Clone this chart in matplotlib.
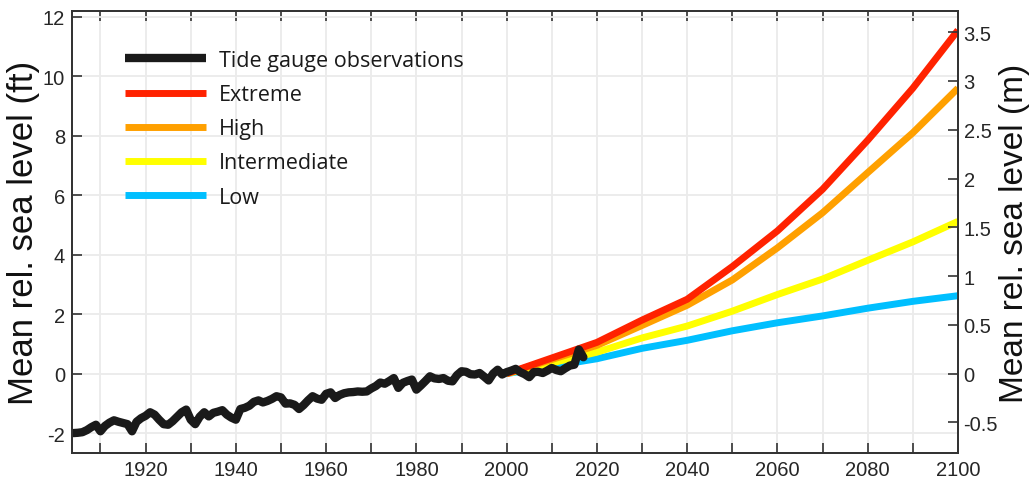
import matplotlib
matplotlib.use("Agg")
import matplotlib.pyplot as plt
from matplotlib.lines import Line2D
from matplotlib.ticker import FixedLocator

plt.rcParams["axes.unicode_minus"] = False

# ---------------- data ----------------
obs_years = list(range(1904, 2018))
obs_ft = [
    -2.00, -1.99, -1.97, -1.90, -1.80, -1.72, -1.94, -1.76, -1.65, -1.57,   # 1904-1913
    -1.62, -1.66, -1.70, -1.94, -1.62, -1.50, -1.42, -1.30, -1.38, -1.55,   # 1914-1923
    -1.70, -1.72, -1.60, -1.45, -1.30, -1.21, -1.55, -1.70, -1.45, -1.30,   # 1924-1933
    -1.44, -1.32, -1.28, -1.23, -1.38, -1.48, -1.55, -1.19, -1.15, -1.08,   # 1934-1943
    -0.95, -0.90, -0.97, -0.92, -0.85, -0.76, -0.80, -1.01, -1.00, -1.05,   # 1944-1953
    -1.19, -1.06, -0.90, -0.76, -0.84, -0.88, -0.68, -0.63, -0.82, -0.72,   # 1954-1963
    -0.66, -0.63, -0.62, -0.60, -0.61, -0.60, -0.50, -0.42, -0.30, -0.34,   # 1964-1973
    -0.25, -0.15, -0.48, -0.31, -0.25, -0.20, -0.54, -0.40, -0.25, -0.09,   # 1974-1983
    -0.16, -0.18, -0.15, -0.24, -0.26, -0.05, 0.08, 0.06, -0.02, -0.03,     # 1984-1993
    0.02, -0.10, -0.23, 0.00, 0.13, -0.03, 0.05, 0.10, 0.16, 0.05,          # 1994-2003
    -0.02, -0.12, 0.05, 0.06, 0.02, 0.10, 0.19, 0.12, 0.08, 0.18,           # 2004-2013
    0.27, 0.30, 0.81, 0.55,                                                 # 2014-2017
]

proj_years = [2000, 2020, 2030, 2040, 2050, 2060, 2070, 2080, 2090, 2100]
extreme_ft = [0.0, 1.05, 1.80, 2.50, 3.60, 4.80, 6.20, 7.85, 9.60, 11.55]
high_ft = [0.0, 0.95, 1.62, 2.30, 3.15, 4.23, 5.41, 6.76, 8.10, 9.60]
intermediate_ft = [0.0, 0.72, 1.20, 1.60, 2.10, 2.66, 3.18, 3.81, 4.43, 5.12]
low_ft = [0.0, 0.50, 0.85, 1.12, 1.44, 1.71, 1.94, 2.20, 2.43, 2.62]

labels = ["Tide gauge observations", "Extreme", "High", "Intermediate", "Low"]
colors = ["#1a1a1a", "#ff2200", "#ffa000", "#ffff00", "#00bfff"]

ft_ticks = [-2, 0, 2, 4, 6, 8, 10, 12]
m_ticks = [-0.5, 0, 0.5, 1, 1.5, 2, 2.5, 3, 3.5]
x_label_ticks = list(range(1920, 2101, 20))
FT_TO_M = 0.3048

# ---------------- figure ----------------
tick_font = "Liberation Sans"
fig = plt.figure(figsize=(10.34, 4.81), dpi=100)
ax = fig.add_axes([72 / 1034, 1 - 454 / 481, (958 - 72) / 1034, (454 - 12) / 481])

xlim = (1903.7, 2100)
ylim = (-2.67, 12.195)

ax.set_xlim(*xlim)
ax.set_ylim(*ylim)

ax.plot(proj_years, low_ft, color=colors[4], lw=5.0, solid_capstyle="butt", zorder=3)
ax.plot(proj_years, intermediate_ft, color=colors[3], lw=5.0, solid_capstyle="butt", zorder=4)
ax.plot(proj_years, high_ft, color=colors[2], lw=5.0, solid_capstyle="butt", zorder=5)
ax.plot(proj_years, extreme_ft, color=colors[1], lw=5.0, solid_capstyle="butt", zorder=6)
ax.plot(obs_years, obs_ft, color=colors[0], lw=6.0, solid_joinstyle="round",
        solid_capstyle="round", zorder=7)

# grid & ticks
ax.xaxis.set_major_locator(FixedLocator(x_label_ticks))
ax.xaxis.set_minor_locator(FixedLocator(list(range(1910, 2100, 20))))
ax.yaxis.set_major_locator(FixedLocator(ft_ticks))
ax.grid(True, which="both", axis="x", color="#ebebeb", lw=1.3, zorder=0)
ax.grid(True, which="major", axis="y", color="#ebebeb", lw=1.3, zorder=0)
ax.set_axisbelow(True)

tick_kw = dict(direction="in", length=7, width=1.2, color="#333333")
ax.tick_params(axis="x", which="both", top=True, bottom=True, **tick_kw)
ax.tick_params(axis="y", which="both", left=True, right=False, **tick_kw)
ax.tick_params(axis="x", which="major", labelsize=14.5, pad=5, labelcolor="#262626")
ax.tick_params(axis="y", which="major", labelsize=14.5, pad=5, labelcolor="#262626")
for lab in ax.get_xticklabels() + ax.get_yticklabels():
    lab.set_fontfamily(tick_font)

for sp in ax.spines.values():
    sp.set_color("#333333")
    sp.set_linewidth(1.3)

ax.set_ylabel("Mean rel. sea level (ft)", fontsize=25, family=tick_font, color="#111111", labelpad=2)

# right axis in meters
ax2 = ax.twinx()
ax2.set_ylim(ylim[0] * FT_TO_M, ylim[1] * FT_TO_M)
ax2.yaxis.set_major_locator(FixedLocator(m_ticks))
ax2.set_yticklabels([("%g" % t) for t in m_ticks])
ax2.tick_params(axis="y", direction="in", length=7, width=1.2, color="#333333",
                labelsize=14.5, pad=4, labelcolor="#262626")
for lab in ax2.get_yticklabels():
    lab.set_fontfamily(tick_font)
for sp in ax2.spines.values():
    sp.set_color("#333333")
    sp.set_linewidth(1.3)
ax2.set_ylabel("Mean rel. sea level (m)", fontsize=24, family=tick_font, color="#111111", labelpad=1)

# legend (butt-ended handles as in the reference)
handle_lw = [6.0, 5.0, 5.0, 5.0, 5.0]
proxies = [Line2D([], [], color=c, lw=w, solid_capstyle="butt") for c, w in zip(colors, handle_lw)]
leg = ax.legend(proxies, labels,
                loc="upper left", bbox_to_anchor=((125 - 72) / 886, 1 - (51 - 12) / 442),
                frameon=False, handlelength=3.75, handletextpad=0.62,
                labelspacing=0.61, borderaxespad=0, borderpad=0,
                prop={"family": "Open Sans", "size": 15.5})
for t in leg.get_texts():
    t.set_color("#1a1a1a")

fig.savefig("out.png", dpi=100)
